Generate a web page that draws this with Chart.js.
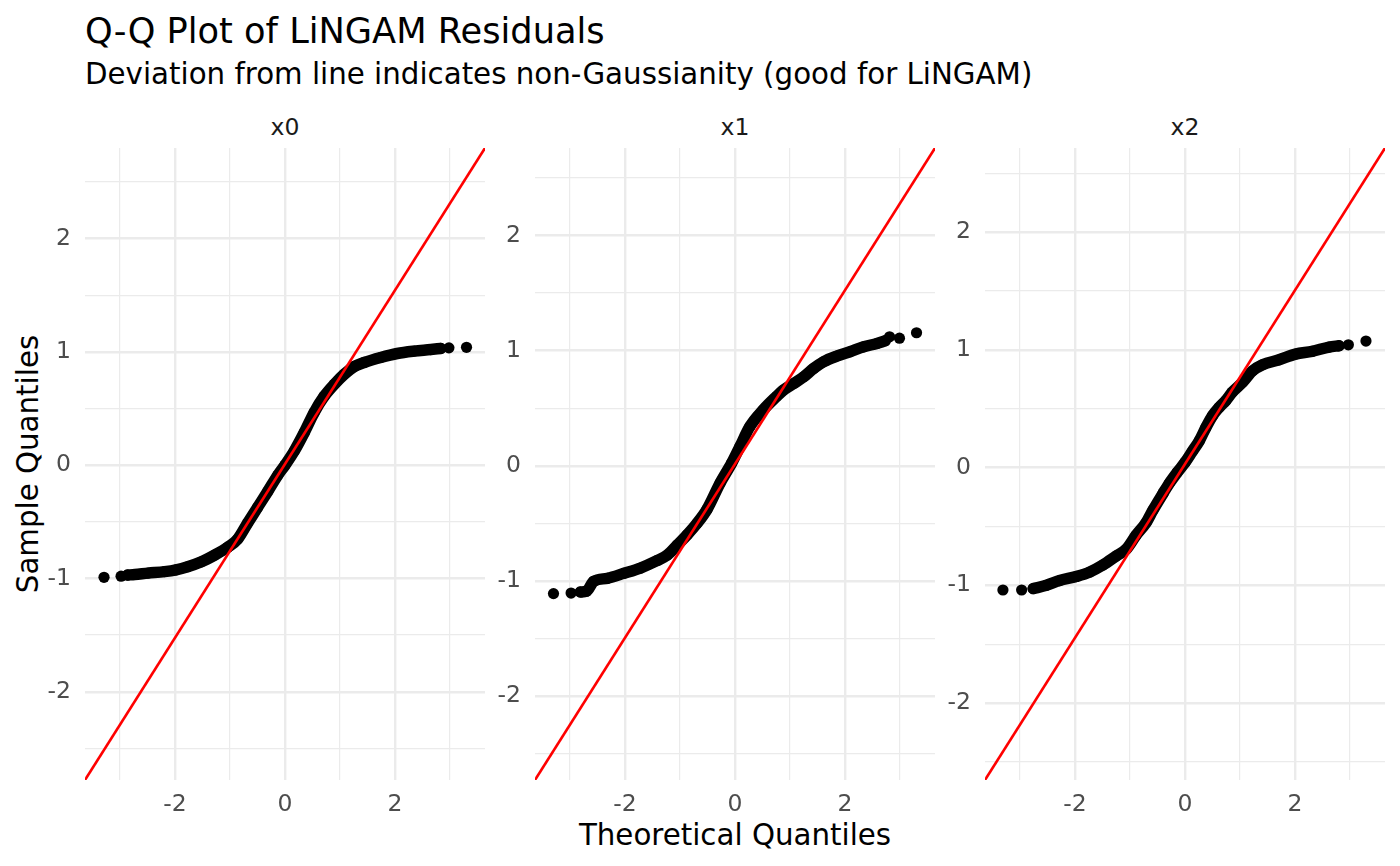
<!DOCTYPE html>
<html>
<head>
<meta charset="utf-8">
<script src="https://cdn.jsdelivr.net/npm/chart.js@4.4.1/dist/chart.umd.min.js"></script>
<style>
  body { margin: 0; background: #fff; font-family: "DejaVu Sans", sans-serif; }
  #wrap { position: relative; width: 1400px; height: 866px; overflow: hidden; }
  .txt { position: absolute; line-height: 1; white-space: nowrap; }
  canvas { position: absolute; }
</style>
</head>
<body>
<div id="wrap">
  <div class="txt" style="left:85px; top:13px; font-size:35.2px; color:#000;">Q-Q Plot of LiNGAM Residuals</div>
  <div class="txt" style="left:85px; top:60px; font-size:29.3px; color:#000;">Deviation from line indicates non-Gaussianity (good for LiNGAM)</div>
  <div class="txt strip" id="strip0"></div>
  <div class="txt strip" id="strip1"></div>
  <div class="txt strip" id="strip2"></div>
  <div class="txt" style="left:735px; top:821px; font-size:29.3px; color:#000; transform:translateX(-50%);">Theoretical Quantiles</div>
  <div class="txt" style="left:29px; top:464px; font-size:29.3px; color:#000; transform:translate(-50%,-50%) rotate(-90deg);">Sample Quantiles</div>
  <canvas id="panel0" width="490" height="722"></canvas>
  <canvas id="panel1" width="490" height="722"></canvas>
  <canvas id="panel2" width="490" height="722"></canvas>
</div>
<script>
// Facet names
const facets = ['x0', 'x1', 'x2'];

// Tick positions (major get labels, minor only grid)
const xMajor = [-2, 0, 2];
const xMinor = [-3, -1, 1, 3];
const yMajor = [-2, -1, 0, 1, 2];
const yMinor = [-2.5, -1.5, -0.5, 0.5, 1.5, 2.5];

// Theoretical quantile range shown
const xRange = [-3.636, 3.636];

// Reference line (qq line) per facet
const lineSlope = [0.767, 0.755, 0.738];
const lineIntercept = [0.01, 0.015, 0.03];

// x0: dense band of points + isolated tail points
const bandX0 = [-2.86, -2.73, -2.49, -2.19, -1.98, -1.77, -1.52, -1.28, -1.04, -0.86, -0.68, -0.50, -0.31, -0.13, 0, 0.17, 0.35, 0.53, 0.71, 0.90, 1.08, 1.26, 1.44, 1.74, 2.04, 2.35, 2.65, 2.83];
const bandY0 = [-0.97, -0.965, -0.953, -0.94, -0.924, -0.897, -0.853, -0.794, -0.724, -0.653, -0.512, -0.374, -0.229, -0.088, 0, 0.126, 0.288, 0.465, 0.606, 0.715, 0.803, 0.871, 0.906, 0.95, 0.985, 1.006, 1.02, 1.03];
const tailX0 = [-3.29, -2.98, 2.98, 3.30];
const tailY0 = [-0.99, -0.98, 1.035, 1.04];

// x1
const bandX1 = [-2.81, -2.70, -2.57, -2.32, -2.02, -1.72, -1.42, -1.23, -1.05, -0.87, -0.69, -0.51, -0.27, -0.06, 0.09, 0.27, 0.51, 0.75, 0.88, 1.06, 1.25, 1.43, 1.61, 1.85, 2.09, 2.34, 2.58, 2.73];
const bandY1 = [-1.097, -1.09, -1.005, -0.978, -0.935, -0.889, -0.825, -0.776, -0.689, -0.600, -0.500, -0.380, -0.150, 0.023, 0.167, 0.340, 0.484, 0.600, 0.657, 0.712, 0.773, 0.845, 0.903, 0.952, 0.99, 1.033, 1.062, 1.085];
const tailX1 = [-3.30, -2.98, 2.81, 2.99, 3.30];
const tailY1 = [-1.111, -1.106, 1.12, 1.108, 1.155];

// x2
const bandX2 = [-2.76, -2.52, -2.28, -1.98, -1.73, -1.49, -1.25, -1.07, -0.89, -0.71, -0.58, -0.40, -0.28, -0.14, 0, 0.13, 0.26, 0.38, 0.50, 0.62, 0.74, 0.86, 1.05, 1.23, 1.41, 1.71, 2.01, 2.31, 2.62, 2.80];
const bandY2 = [-1.028, -1.0, -0.96, -0.926, -0.887, -0.827, -0.751, -0.694, -0.575, -0.470, -0.360, -0.220, -0.130, -0.040, 0.043, 0.135, 0.227, 0.340, 0.440, 0.510, 0.568, 0.640, 0.725, 0.822, 0.873, 0.915, 0.963, 0.986, 1.023, 1.034];
const tailX2 = [-3.31, -2.97, 2.97, 3.29];
const tailY2 = [-1.04, -1.04, 1.042, 1.074];

const bands = [[bandX0, bandY0], [bandX1, bandY1], [bandX2, bandY2]];
const tails = [[tailX0, tailY0], [tailX1, tailY1], [tailX2, tailY2]];

// layout of the three panels (page pixels)
const panelLeft = [85, 535, 985];
const panelTop = 148;
const panelWidth = 400;
const yAxisW = 55, padL = 5, padT = 30, padR = 30, padB = 10, xAxisH = 50;

const gridColor = '#EBEBEB';
const tickFont = { family: 'DejaVu Sans', size: 23.5 };
const tickColor = '#4D4D4D';

function pts(xs, ys) {
    return xs.map((x, i) => ({ x: x, y: ys[i] }));
}

function createPanel(i) {
    const canvas = document.getElementById('panel' + i);
    canvas.style.left = (panelLeft[i] - yAxisW - padL) + 'px';
    canvas.style.top = (panelTop - padT) + 'px';

    const strip = document.getElementById('strip' + i);
    strip.textContent = facets[i];
    strip.style.cssText = 'left:' + (panelLeft[i] + panelWidth / 2) + 'px; top:116px; font-size:23.5px; color:#1A1A1A; transform:translateX(-50%);';

    const line = x => lineSlope[i] * x + lineIntercept[i];
    const yMin = line(xRange[0]);
    const yMax = line(xRange[1]);

    return new Chart(canvas, {
        type: 'scatter',
        data: {
            datasets: [{
                // red qq line, drawn on top
                data: pts(xRange, xRange.map(line)),
                showLine: true,
                borderColor: '#FF0000',
                borderWidth: 2.6,
                pointRadius: 0,
                order: 0
            }, {
                data: pts(bands[i][0], bands[i][1]),
                showLine: true,
                borderColor: '#000000',
                borderWidth: 11.5,
                borderCapStyle: 'round',
                borderJoinStyle: 'round',
                cubicInterpolationMode: 'monotone',
                pointRadius: 5.6,
                pointBorderWidth: 0,
                pointBackgroundColor: '#000000',
                order: 1
            }, {
                data: pts(tails[i][0], tails[i][1]),
                showLine: false,
                pointRadius: 5.6,
                pointBorderWidth: 0,
                pointBackgroundColor: '#000000',
                order: 1
            }]
        },
        options: {
            responsive: false,
            animation: false,
            layout: { padding: { top: padT, right: padR, bottom: padB, left: padL } },
            plugins: { legend: { display: false }, tooltip: { enabled: false } },
            scales: {
                x: {
                    type: 'linear',
                    min: xRange[0],
                    max: xRange[1],
                    afterBuildTicks: s => { s.ticks = xMinor.concat(xMajor).sort((a, b) => a - b).map(v => ({ value: v })); },
                    afterFit: s => { s.height = xAxisH; },
                    border: { display: false },
                    grid: {
                        color: gridColor,
                        drawTicks: false,
                        lineWidth: c => (c.tick && xMajor.includes(c.tick.value)) ? 2.4 : 1.2
                    },
                    ticks: {
                        autoSkip: false,
                        maxRotation: 0,
                        padding: 11,
                        font: tickFont,
                        color: tickColor,
                        callback: v => xMajor.includes(v) ? String(v) : ''
                    }
                },
                y: {
                    type: 'linear',
                    min: yMin,
                    max: yMax,
                    afterBuildTicks: s => { s.ticks = yMinor.concat(yMajor).sort((a, b) => a - b).map(v => ({ value: v })); },
                    afterFit: s => { s.width = yAxisW; },
                    border: { display: false },
                    grid: {
                        color: gridColor,
                        drawTicks: false,
                        lineWidth: c => (c.tick && yMajor.includes(c.tick.value)) ? 2.4 : 1.2
                    },
                    ticks: {
                        autoSkip: false,
                        padding: 14,
                        font: tickFont,
                        color: tickColor,
                        callback: v => yMajor.includes(v) ? String(v) : ''
                    }
                }
            }
        }
    });
}

facets.forEach((f, i) => createPanel(i));
</script>
</body>
</html>
